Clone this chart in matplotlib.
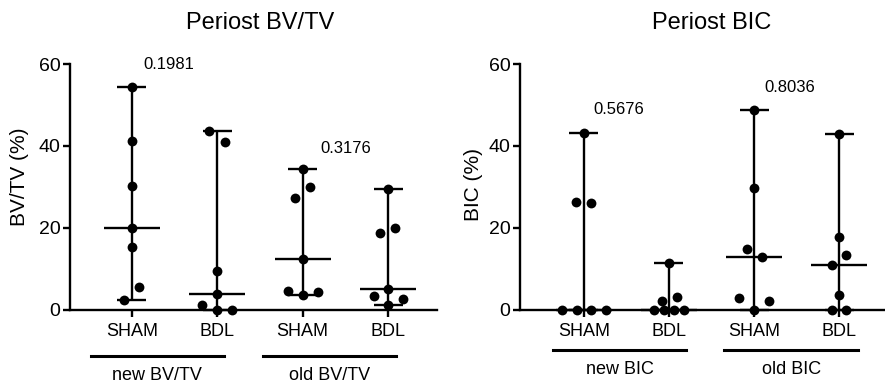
import numpy as np
import matplotlib
matplotlib.use("Agg")
import matplotlib.pyplot as plt

plt.rcParams['font.family'] = ['Liberation Sans', 'DejaVu Sans']

groups = ["SHAM", "BDL", "SHAM", "BDL"]

# Periost BV/TV (%)
bvtv = [
    [54.3, 41.1, 30.3, 20.1, 15.3, 5.5, 2.4],
    [43.7, 40.9, 9.5, 3.9, 1.1, 0.0, 0.0],
    [34.4, 30.1, 27.3, 12.4, 4.6, 4.3, 3.6],
    [29.4, 19.9, 18.9, 5.1, 3.3, 2.8, 1.1],
]
# Periost BIC (%)
bic = [
    [43.1, 26.3, 26.1, 0.0, 0.0, 0.0, 0.0],
    [11.4, 3.2, 2.2, 0.0, 0.0, 0.0, 0.0],
    [48.9, 29.8, 14.9, 12.9, 3.0, 2.3, 0.0],
    [42.9, 17.7, 13.3, 10.9, 3.7, 0.0, 0.0],
]
pvals_bvtv = ["0.1981", "0.3176"]
pvals_bic = ["0.5676", "0.8036"]

# horizontal scatter of the dots (pixels)
jit_bvtv = [
    [0, 0, 0, 0, 0, 7, -8],
    [-8, 8, 0, 0, -15, 0, 15],
    [0, 7, -8, 0, -15, 15, 0],
    [0, 7, -8, 0, -14, 15, 0],
]
jit_bic = [
    [0, -8, 7, -22, -7, 7, 22],
    [0, 8, -7, -15, -5, 5, 15],
    [0, 0, -7, 8, -15, 15, 0],
    [0, 0, 7, -7, 0, -7, 7],
]

W, H = 885, 383
fig = plt.figure(figsize=(W / 100, H / 100), dpi=100)
px = 85.5  # pixels per category
lw = 1.7


def pix_axes(x0, y0, x1, y1):
    return fig.add_axes([x0 / W, 1 - y1 / H, (x1 - x0) / W, (y1 - y0) / H])


def draw(ax, data, jit):
    # median with range, plus every point
    for i, vals in enumerate(data):
        vals = np.array(vals)
        med = np.median(vals)
        lo, hi = vals.min(), vals.max()
        xs = i + np.array(jit[i]) / px
        kw = dict(color="black", lw=lw, zorder=3, clip_on=False, solid_capstyle="butt")
        ax.plot([i, i], [lo, hi], **kw)
        ax.plot([i - 0.17, i + 0.17], [lo, lo], **kw)
        ax.plot([i - 0.17, i + 0.17], [hi, hi], **kw)
        ax.plot([i - 0.33, i + 0.33], [med, med], **kw)
        ax.scatter(xs, vals, s=50, color="black", zorder=4, clip_on=False, linewidths=0)


def style(ax, ylabel, lab_xy):
    ax.set_ylim(0, 60)
    ax.set_yticks([0, 20, 40, 60])
    ax.set_xticks(range(4))
    ax.set_xticklabels(groups, fontsize=13)
    ax.tick_params(axis="y", labelsize=14, length=5, width=lw, pad=2)
    ax.tick_params(axis="x", length=5, width=lw, pad=4)
    for s in ["top", "right"]:
        ax.spines[s].set_visible(False)
    for s in ["left", "bottom"]:
        ax.spines[s].set_linewidth(lw)
    ax.set_ylabel(ylabel, fontsize=15)
    ax.yaxis.set_label_coords(*lab_xy)


def group_lines(ax, spans, y_line, names, xt, y_text):
    tr = ax.get_xaxis_transform()
    for (a, b), name, xc in zip(spans, names, xt):
        ax.plot([a, b], [y_line, y_line], color="black", lw=2.2, transform=tr, clip_on=False)
        ax.text(xc, y_text, name, transform=tr, ha="center", va="center", fontsize=13)


# left panel
ax1 = pix_axes(70, 64, 437, 310)
ax1.set_xlim(-(132 - 70) / px, 3 + (437 - 388) / px)
draw(ax1, bvtv, jit_bvtv)
style(ax1, "BV/TV (%)", (-0.112, 0.54))
ax1.text(0.43, 59.8, pvals_bvtv[0], ha="center", va="center", fontsize=12)
ax1.text(2.5, 39.4, pvals_bvtv[1], ha="center", va="center", fontsize=12)
group_lines(ax1, [(-0.48, 1.08), (1.53, 3.09)], -0.187,
            ["new BV/TV", "old BV/TV"], [0.29, 2.32], -0.268)

# right panel
ax2 = pix_axes(520, 64, 885, 310)
ax2.set_xlim(-(584 - 520) / px, 3 + (885 - 839) / px)
draw(ax2, bic, jit_bic)
style(ax2, "BIC (%)", (-0.102, 0.51))
ax2.text(0.41, 48.8, pvals_bic[0], ha="center", va="center", fontsize=12)
ax2.text(2.42, 54.2, pvals_bic[1], ha="center", va="center", fontsize=12)
group_lines(ax2, [(-0.365, 1.2), (1.65, 3.22)], -0.163,
            ["new BIC", "old BIC"], [0.42, 2.44], -0.24)

fig.text(260 / W, 1 - 23 / H, "Periost BV/TV", ha="center", va="center", fontsize=17)
fig.text(712 / W, 1 - 23 / H, "Periost BIC", ha="center", va="center", fontsize=17)

fig.savefig("out.png", dpi=100)
